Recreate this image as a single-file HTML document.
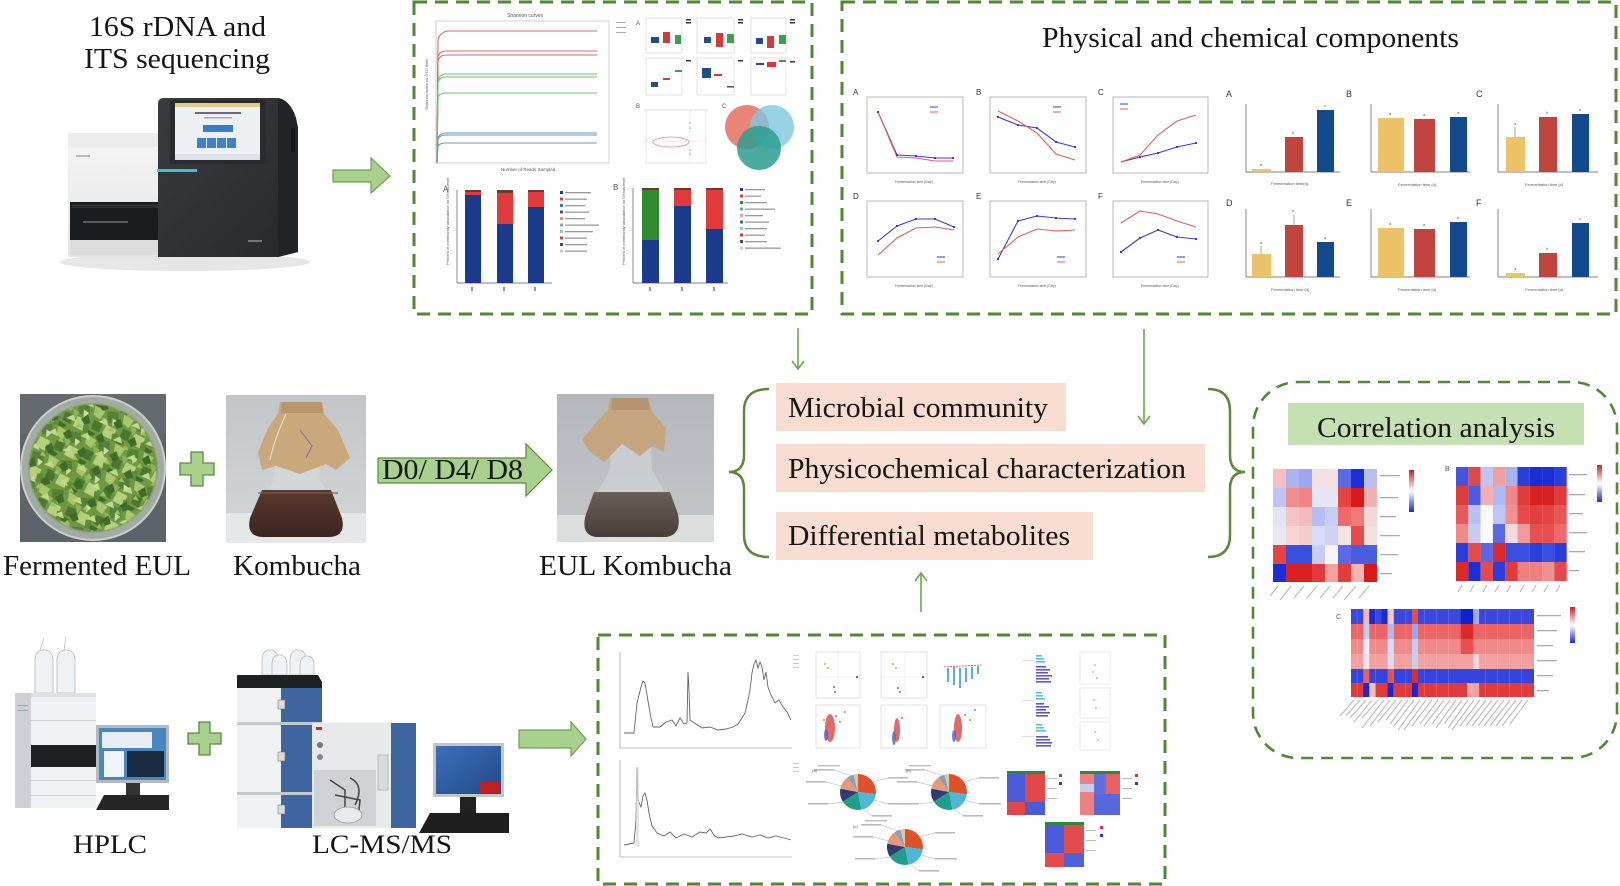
<!DOCTYPE html>
<html><head><meta charset="utf-8">
<style>
html,body{margin:0;padding:0;background:#fff;width:1620px;height:886px;overflow:hidden;}
svg{display:block;}
.big{font-family:"Liberation Serif",serif;fill:#161616;}
.sm{font-family:"Liberation Sans",sans-serif;fill:#555;}
</style></head><body>
<svg width="1620" height="886" viewBox="0 0 1620 886" xmlns="http://www.w3.org/2000/svg">
<defs>
<pattern id="leafp" width="30" height="30" patternUnits="userSpaceOnUse" patternTransform="rotate(17)">
<rect width="30" height="30" fill="#6e9942"/>
<polygon points="0,0 11,3 8,12 1,9" fill="#a9c76a"/>
<polygon points="13,2 24,0 27,10 16,13" fill="#54803a"/>
<polygon points="3,14 12,15 11,25 2,23" fill="#4a7630"/>
<polygon points="16,15 27,17 25,28 14,26" fill="#b8d07e"/>
<polygon points="9,9 17,11 14,18" fill="#8cb458"/>
<polygon points="20,7 26,9 22,15" fill="#cfe09a"/>
<polygon points="0,25 8,27 6,30 0,30" fill="#3f6b2b"/>
<polygon points="24,22 30,20 30,29 25,30" fill="#5e8a38"/>
</pattern>
<pattern id="leafp2" width="23" height="23" patternUnits="userSpaceOnUse" patternTransform="rotate(-38)">
<polygon points="2,2 10,4 7,11" fill="#c2d88c"/>
<polygon points="13,12 21,13 18,21 12,19" fill="#3e6a2a"/>
<polygon points="4,15 9,14 8,20" fill="#9cc060"/>
</pattern>
<linearGradient id="whiteBody" x1="0" y1="0" x2="0" y2="1"><stop offset="0" stop-color="#f6f6f6"/><stop offset="1" stop-color="#e4e4e4"/></linearGradient>
<linearGradient id="darkBody" x1="0" y1="0" x2="1" y2="1"><stop offset="0" stop-color="#3a3b3f"/><stop offset="1" stop-color="#28292c"/></linearGradient>
<linearGradient id="bgK" x1="0" y1="0" x2="0" y2="1"><stop offset="0" stop-color="#c2c6c9"/><stop offset="1" stop-color="#d4d7d9"/></linearGradient>
<linearGradient id="bgE" x1="0" y1="0" x2="0" y2="1"><stop offset="0" stop-color="#b4b8bc"/><stop offset="1" stop-color="#c4c7ca"/></linearGradient>
<linearGradient id="liqK" x1="0" y1="0" x2="0" y2="1"><stop offset="0" stop-color="#5a3a30"/><stop offset="1" stop-color="#3c241e"/></linearGradient>
<linearGradient id="liqE" x1="0" y1="0" x2="0" y2="1"><stop offset="0" stop-color="#6a6058"/><stop offset="1" stop-color="#463e38"/></linearGradient>
<linearGradient id="scr" x1="0" y1="0" x2="1" y2="1"><stop offset="0" stop-color="#3d70b8"/><stop offset="1" stop-color="#1f4a8a"/></linearGradient>
<linearGradient id="cbar" x1="0" y1="0" x2="0" y2="1"><stop offset="0" stop-color="#d41c1c"/><stop offset="0.5" stop-color="#ffffff"/><stop offset="1" stop-color="#1c2ad4"/></linearGradient>
<g id="pie">
<path d="M0 0 L0 -18 A18 18 0 0 1 17.86 2.26 Z" fill="#e0502a"/>
<path d="M0 0 L17.86 2.26 A18 18 0 0 1 3.37 17.68 Z" fill="#4fb8d8"/>
<path d="M0 0 L3.37 17.68 A18 18 0 0 1 -15.2 9.64 Z" fill="#1f9e89"/>
<path d="M0 0 L-15.2 9.64 A18 18 0 0 1 -17.68 -3.37 Z" fill="#2c3e70"/>
<path d="M0 0 L-17.68 -3.37 A18 18 0 0 1 -10.58 -14.56 Z" fill="#e89a78"/>
<path d="M0 0 L-10.58 -14.56 A18 18 0 0 1 -4.48 -17.43 Z" fill="#8aa0b8"/>
<path d="M0 0 L-4.48 -17.43 A18 18 0 0 1 0 -18 Z" fill="#d8c9a0"/>
<g stroke="#aaa" stroke-width="0.5"><line x1="14" y1="-10" x2="30" y2="-14"/><line x1="16" y1="8" x2="30" y2="12"/><line x1="-16" y1="-6" x2="-32" y2="-10"/><line x1="-14" y1="10" x2="-30" y2="12"/><line x1="-6" y1="-16" x2="-24" y2="-22"/><line x1="5" y1="17" x2="14" y2="24"/></g>
<g fill="#bbb"><rect x="30" y="-15" width="20" height="1.6"/><rect x="30" y="11" width="22" height="1.6"/><rect x="-52" y="-11" width="20" height="1.6"/><rect x="-50" y="11" width="20" height="1.6"/><rect x="-44" y="-23" width="20" height="1.6"/><rect x="-40" y="-27" width="22" height="1.4"/><rect x="14" y="23" width="20" height="1.6"/></g>
</g>
</defs>

<rect width="1620" height="886" fill="#fff"/>

<!-- ============ TOP LEFT ============ -->
<text class="big" x="89" y="36" font-size="28" textLength="177" lengthAdjust="spacingAndGlyphs">16S rDNA and</text>
<text class="big" x="84" y="68" font-size="28" textLength="186" lengthAdjust="spacingAndGlyphs">ITS sequencing</text>

<!-- sequencer -->
<ellipse cx="185" cy="262" rx="125" ry="9" fill="#e6e6e6"/>
<rect x="68" y="133" width="92" height="124" fill="url(#whiteBody)"/>
<rect x="68" y="133" width="92" height="14" fill="#ececec"/>
<rect x="76" y="155" width="14" height="2" fill="#bbb"/>
<rect x="70" y="202" width="88" height="38" fill="#1b1c1e"/>
<rect x="72" y="204" width="86" height="4" fill="#2c2d30"/>
<rect x="83" y="221" width="45" height="2" fill="#5a5a5c"/>
<rect x="70" y="240" width="88" height="15" fill="#dcdcdc"/>
<path d="M158 104 Q158 98 164 98 L278 98 Q290 100 296 118 L298 128 L298 252 L278 257 L158 257 Z" fill="url(#darkBody)"/>
<path d="M278 98 Q290 100 296 118 L298 128 L298 252 L278 257 Z" fill="#222326"/>
<rect x="291" y="128" width="4" height="24" fill="#141416"/>
<rect x="170" y="100" width="96" height="64" fill="#2a2b2e"/>
<rect x="175" y="103" width="85" height="57" fill="#eef1f4"/>
<rect x="175" y="103" width="85" height="4" fill="#e3c98a"/>
<rect x="195" y="112" width="46" height="2" fill="#6a6a7a"/>
<rect x="204" y="117" width="28" height="1.5" fill="#aaa"/>
<rect x="203" y="125" width="30" height="7" fill="#3a7fc6"/>
<rect x="197" y="138" width="9" height="10" fill="#3d82c8"/>
<rect x="207" y="138" width="9" height="10" fill="#3d82c8"/>
<rect x="217" y="138" width="9" height="10" fill="#3d82c8"/>
<rect x="227" y="138" width="9" height="10" fill="#3d82c8"/>
<rect x="175" y="154" width="85" height="6" fill="#dfe3e7"/>
<rect x="157" y="169" width="40" height="3" fill="#37c3cf"/>
<rect x="248" y="240" width="14" height="2" fill="#777"/>

<!-- arrow 1 -->
<path d="M333 170 L371 170 L371 158 L390 176 L371 193 L371 182 L333 182 Z" fill="#a9d18e" stroke="#6d9f50" stroke-width="1.2"/>

<!-- ============ BOX 1 ============ -->
<rect x="414" y="2" width="398" height="312" fill="none" stroke="#4f8a32" stroke-width="3" stroke-dasharray="13 8"/>
<!-- shannon -->
<text class="sm" x="507" y="17" font-size="5">Shannon curves</text>
<rect x="436" y="21" width="173" height="142" fill="none" stroke="#bbb" stroke-width="0.7"/>
<g fill="none" stroke-width="1.1">
<path d="M437 163 L438 40 Q440 32 448 31 L597 31" stroke="#e06464"/>
<path d="M437 163 L438 56 Q440 51 446 51 L597 51" stroke="#e06464"/>
<path d="M437 163 L438 60 Q440 55 446 55 L597 55" stroke="#e06464"/>
<path d="M437 163 L438 80 Q440 74 446 74 L597 74" stroke="#6cc06c"/>
<path d="M437 163 L438 82 Q440 77 446 77 L597 77" stroke="#6cc06c"/>
<path d="M437 163 L438 97 Q440 93 446 93 L597 93" stroke="#6cc06c"/>
<path d="M437 163 L438 138 Q440 133 446 133 L597 133" stroke="#6a95bd"/>
<path d="M437 163 L438 139 Q440 135 446 135 L597 135" stroke="#6a95bd"/>
<path d="M437 163 L438 146 Q440 143 446 143 L597 143" stroke="#6a95bd"/>
</g>
<g fill="#aaa"><rect x="616" y="22" width="10" height="1"/><rect x="616" y="27" width="10" height="1"/><rect x="616" y="32" width="10" height="1"/></g>
<text class="sm" x="501" y="171" font-size="4.5">Number of Reads Sampled</text>
<text class="sm" x="428" y="110" font-size="4" transform="rotate(-90 428 110)">Shannon index on OTU level</text>
<!-- boxplots -->
<g fill="none" stroke="#ccc" stroke-width="0.6">
<rect x="646" y="18" width="36" height="35"/><rect x="697" y="18" width="37" height="35"/><rect x="751" y="18" width="35" height="35"/>
<rect x="646" y="58" width="36" height="37"/><rect x="697" y="58" width="37" height="37"/><rect x="751" y="58" width="35" height="37"/>
</g>
<text class="sm" x="636" y="25" font-size="6" fill="#333">A</text>
<g>
<rect x="651" y="37" width="8" height="6" fill="#1f4e8c"/><rect x="663" y="32" width="7" height="11" fill="#d9383a"/><rect x="675" y="35" width="6" height="9" fill="#3aa04a"/>
<rect x="704" y="37" width="7" height="6" fill="#1f4e8c"/><rect x="716" y="33" width="7" height="14" fill="#d9383a"/><rect x="727" y="34" width="7" height="9" fill="#3aa04a"/>
<rect x="756" y="38" width="7" height="6" fill="#1f4e8c"/><rect x="767" y="36" width="7" height="12" fill="#d9383a"/><rect x="779" y="35" width="7" height="9" fill="#3aa04a"/>
<rect x="651" y="82" width="7" height="5" fill="#1f4e8c"/><rect x="663" y="78" width="7" height="2" fill="#d9383a"/><rect x="675" y="70" width="7" height="2" fill="#3aa04a"/>
<rect x="702" y="68" width="9" height="10" fill="#1f4e8c"/><rect x="714" y="74" width="8" height="2" fill="#d9383a"/><rect x="727" y="86" width="7" height="1.5" fill="#555"/>
<rect x="756" y="63" width="8" height="2" fill="#1f4e8c"/><rect x="767" y="62" width="9" height="5" fill="#d9383a"/><rect x="779" y="60" width="7" height="2" fill="#3aa04a"/>
</g>
<g fill="#333"><rect x="686" y="19" width="5" height="1.5"/><rect x="686" y="22" width="5" height="1.5"/><rect x="738" y="19" width="5" height="1.5"/><rect x="738" y="22" width="5" height="1.5"/><rect x="790" y="19" width="5" height="1.5"/><rect x="790" y="22" width="5" height="1.5"/><rect x="686" y="60" width="5" height="1.5"/><rect x="738" y="60" width="5" height="1.5"/><rect x="790" y="61" width="5" height="1.5"/></g>
<!-- PCA -->
<text class="sm" x="636" y="108" font-size="6" fill="#333">B</text>
<rect x="646" y="110" width="60" height="53" fill="none" stroke="#ccc" stroke-width="0.6"/>
<line x1="646" y1="141" x2="706" y2="141" stroke="#ccc" stroke-width="0.5" stroke-dasharray="2 1"/>
<line x1="690" y1="110" x2="690" y2="163" stroke="#ccc" stroke-width="0.5" stroke-dasharray="2 1"/>
<ellipse cx="671" cy="142" rx="18" ry="5" fill="none" stroke="#e88" stroke-width="0.8"/>
<g fill="#7aa"><circle cx="690" cy="123" r="0.8"/><circle cx="690" cy="128" r="0.8"/><circle cx="690" cy="150" r="0.8"/><circle cx="690" cy="154" r="0.8"/></g>
<!-- venn -->
<text class="sm" x="722" y="108" font-size="6" fill="#333">C</text>
<circle cx="747" cy="127" r="22" fill="#e8776a" opacity="0.9"/>
<circle cx="772" cy="127" r="22" fill="#7ec8de" opacity="0.8"/>
<circle cx="759" cy="148" r="22" fill="#2a9d8f" opacity="0.85"/>
<!-- bar A -->
<text class="sm" x="443" y="192" font-size="8" fill="#333">A</text>
<line x1="457" y1="190" x2="457" y2="283" stroke="#555" stroke-width="0.7"/>
<line x1="457" y1="283" x2="552" y2="283" stroke="#555" stroke-width="0.7"/>
<text class="sm" x="449" y="265" font-size="4" transform="rotate(-90 449 265)">Percent of community abundance on Genus level</text>
<rect x="465" y="190" width="16" height="2" fill="#6b3a2a"/><rect x="465" y="192" width="16" height="3" fill="#e03a3a"/><rect x="465" y="195" width="16" height="88" fill="#1a3a8a"/>
<rect x="497" y="190" width="16" height="3" fill="#6b3a2a"/><rect x="497" y="193" width="16" height="31" fill="#e03a3a"/><rect x="497" y="224" width="16" height="59" fill="#1a3a8a"/>
<rect x="528" y="190" width="16" height="2" fill="#6b3a2a"/><rect x="528" y="192" width="16" height="15" fill="#e03a3a"/><rect x="528" y="207" width="16" height="76" fill="#1a3a8a"/>
<g fill="#999"><rect x="471" y="287" width="2" height="4"/><rect x="503" y="287" width="2" height="4"/><rect x="534" y="287" width="2" height="4"/></g>
<g>
<rect x="560" y="191" width="3" height="3" fill="#1a3a8a"/><rect x="560" y="197.5" width="3" height="3" fill="#e03a3a"/><rect x="560" y="204" width="3" height="3" fill="#2a8a8a"/><rect x="560" y="210.5" width="3" height="3" fill="#3a5a9a"/><rect x="560" y="217" width="3" height="3" fill="#e88"/><rect x="560" y="223.5" width="3" height="3" fill="#8aa"/><rect x="560" y="230" width="3" height="3" fill="#8cc"/><rect x="560" y="236.5" width="3" height="3" fill="#c44"/><rect x="560" y="243" width="3" height="3" fill="#643"/><rect x="560" y="249.5" width="3" height="3" fill="#ccc"/>
</g>
<g fill="#999"><rect x="565" y="192" width="26" height="1.3"/><rect x="565" y="198.5" width="22" height="1.3"/><rect x="565" y="205" width="20" height="1.3"/><rect x="565" y="211.5" width="24" height="1.3"/><rect x="565" y="218" width="20" height="1.3"/><rect x="565" y="224.5" width="34" height="1.3"/><rect x="565" y="231" width="28" height="1.3"/><rect x="565" y="237.5" width="22" height="1.3"/><rect x="565" y="244" width="22" height="1.3"/><rect x="565" y="250.5" width="22" height="1.3"/></g>
<!-- bar B -->
<text class="sm" x="613" y="190" font-size="8" fill="#333">B</text>
<line x1="633" y1="188" x2="633" y2="283" stroke="#555" stroke-width="0.7"/>
<line x1="633" y1="283" x2="728" y2="283" stroke="#555" stroke-width="0.7"/>
<text class="sm" x="625" y="265" font-size="4" transform="rotate(-90 625 265)">Percent of community abundance on Genus level</text>
<rect x="642" y="188" width="17" height="2" fill="#6b3a2a"/><rect x="642" y="190" width="17" height="50" fill="#2e8b2e"/><rect x="642" y="240" width="17" height="43" fill="#1a3a8a"/>
<rect x="674" y="188" width="17" height="2" fill="#6b3a2a"/><rect x="674" y="190" width="17" height="16" fill="#e03a3a"/><rect x="674" y="206" width="17" height="77" fill="#1a3a8a"/>
<rect x="706" y="188" width="17" height="2" fill="#6b3a2a"/><rect x="706" y="190" width="17" height="39" fill="#e03a3a"/><rect x="706" y="229" width="17" height="54" fill="#1a3a8a"/>
<g fill="#999"><rect x="649" y="287" width="2" height="4"/><rect x="681" y="287" width="2" height="4"/><rect x="713" y="287" width="2" height="4"/></g>
<g>
<rect x="740" y="188" width="3" height="3" fill="#1a3a8a"/><rect x="740" y="194.5" width="3" height="3" fill="#e03a3a"/><rect x="740" y="201" width="3" height="3" fill="#2e8b2e"/><rect x="740" y="207.5" width="3" height="3" fill="#6aa"/><rect x="740" y="214" width="3" height="3" fill="#e99"/><rect x="740" y="220.5" width="3" height="3" fill="#468"/><rect x="740" y="227" width="3" height="3" fill="#8cc"/><rect x="740" y="233.5" width="3" height="3" fill="#d33"/><rect x="740" y="240" width="3" height="3" fill="#643"/><rect x="740" y="246.5" width="3" height="3" fill="#ccc"/>
</g>
<g fill="#999"><rect x="745" y="189" width="20" height="1.3"/><rect x="745" y="195.5" width="16" height="1.3"/><rect x="745" y="202" width="22" height="1.3"/><rect x="745" y="208.5" width="30" height="1.3"/><rect x="745" y="215" width="18" height="1.3"/><rect x="745" y="221.5" width="24" height="1.3"/><rect x="745" y="228" width="22" height="1.3"/><rect x="745" y="234.5" width="20" height="1.3"/><rect x="745" y="241" width="22" height="1.3"/><rect x="745" y="247.5" width="36" height="1.3"/></g>

<!-- ============ BOX 2 ============ -->
<rect x="842" y="2" width="774" height="312" fill="none" stroke="#4f8a32" stroke-width="3" stroke-dasharray="13 8"/>
<text class="big" x="1042" y="47" font-size="28" textLength="417" lengthAdjust="spacingAndGlyphs">Physical and chemical components</text>
<!-- line charts -->
<g class="sm" font-size="8" fill="#333">
<text x="853" y="95" fill="#333">A</text><text x="976" y="95" fill="#333">B</text><text x="1098" y="95" fill="#333">C</text>
<text x="853" y="199" fill="#333">D</text><text x="976" y="199" fill="#333">E</text><text x="1098" y="199" fill="#333">F</text>
</g>
<g fill="none" stroke="#999" stroke-width="0.7">
<rect x="867" y="97" width="96" height="76"/><rect x="990" y="97" width="96" height="76"/><rect x="1113" y="97" width="95" height="76"/>
<rect x="867" y="201" width="96" height="76"/><rect x="990" y="201" width="96" height="76"/><rect x="1113" y="201" width="95" height="76"/>
</g>
<g class="sm" font-size="3.5" fill="#777">
<text x="895" y="183">Fermentation time (Day)</text><text x="1018" y="183">Fermentation time (Day)</text><text x="1141" y="183">Fermentation time (Day)</text>
<text x="895" y="287">Fermentation time (Day)</text><text x="1018" y="287">Fermentation time (Day)</text><text x="1141" y="287">Fermentation time (Day)</text>
</g>
<g fill="none" stroke-width="1.1">
<polyline points="878,112 897,155 916,156 935,158 953,158" stroke="#3a3ad0"/>
<polyline points="878,112 897,157 916,158 935,161 953,161" stroke="#e06060"/>
<polyline points="998,117 1018,125 1037,128 1056,142 1075,147" stroke="#3a3ad0"/>
<polyline points="998,111 1018,121 1037,133 1056,154 1075,160" stroke="#e06060"/>
<polyline points="1121,162 1140,157 1158,153 1177,147 1196,143" stroke="#3a3ad0"/>
<polyline points="1121,162 1140,155 1158,135 1177,121 1196,115" stroke="#e06060"/>
<polyline points="878,241 897,226 916,219 935,219 954,227" stroke="#3a3ad0"/>
<polyline points="878,255 897,238 916,228 935,227 954,230" stroke="#e06060"/>
<polyline points="998,259 1018,221 1037,216 1056,218 1075,219" stroke="#3a3ad0"/>
<polyline points="998,254 1018,237 1037,229 1056,231 1075,230" stroke="#e06060"/>
<polyline points="1121,252 1140,238 1158,230 1177,237 1196,239" stroke="#3a3ad0"/>
<polyline points="1121,223 1140,211 1158,214 1177,221 1196,227" stroke="#e06060"/>
</g>
<g fill="#3a3ad0">
<rect x="877" y="111" width="2" height="2"/><rect x="896" y="154" width="2" height="2"/><rect x="915" y="155" width="2" height="2"/><rect x="934" y="157" width="2" height="2"/><rect x="952" y="157" width="2" height="2"/>
<rect x="997" y="116" width="2" height="2"/><rect x="1017" y="124" width="2" height="2"/><rect x="1036" y="127" width="2" height="2"/><rect x="1055" y="141" width="2" height="2"/><rect x="1074" y="146" width="2" height="2"/>
<rect x="1139" y="156" width="2" height="2"/><rect x="1157" y="152" width="2" height="2"/><rect x="1176" y="146" width="2" height="2"/><rect x="1195" y="142" width="2" height="2"/>
<rect x="877" y="240" width="2" height="2"/><rect x="896" y="225" width="2" height="2"/><rect x="915" y="218" width="2" height="2"/><rect x="934" y="218" width="2" height="2"/><rect x="953" y="226" width="2" height="2"/>
<rect x="997" y="258" width="2" height="2"/><rect x="1017" y="220" width="2" height="2"/><rect x="1036" y="215" width="2" height="2"/><rect x="1055" y="217" width="2" height="2"/><rect x="1074" y="218" width="2" height="2"/>
<rect x="1120" y="251" width="2" height="2"/><rect x="1139" y="237" width="2" height="2"/><rect x="1157" y="229" width="2" height="2"/><rect x="1176" y="236" width="2" height="2"/><rect x="1195" y="238" width="2" height="2"/>
</g>
<g stroke-width="1" fill="none">
<line x1="930" y1="107" x2="938" y2="107" stroke="#3a3ad0"/><line x1="930" y1="112" x2="938" y2="112" stroke="#e06060"/>
<line x1="1053" y1="107" x2="1061" y2="107" stroke="#3a3ad0"/><line x1="1053" y1="112" x2="1061" y2="112" stroke="#e06060"/>
<line x1="1120" y1="104" x2="1128" y2="104" stroke="#3a3ad0"/><line x1="1120" y1="109" x2="1128" y2="109" stroke="#e06060"/>
<line x1="937" y1="257" x2="945" y2="257" stroke="#3a3ad0"/><line x1="937" y1="262" x2="945" y2="262" stroke="#e06060"/>
<line x1="1057" y1="257" x2="1065" y2="257" stroke="#3a3ad0"/><line x1="1057" y1="262" x2="1065" y2="262" stroke="#e06060"/>
<line x1="1177" y1="257" x2="1185" y2="257" stroke="#3a3ad0"/><line x1="1177" y1="262" x2="1185" y2="262" stroke="#e06060"/>
</g>
<!-- bar charts -->
<g class="sm" font-size="9" fill="#333">
<text x="1226" y="97" fill="#333">A</text><text x="1346" y="97" fill="#333">B</text><text x="1476" y="97" fill="#333">C</text>
<text x="1226" y="206" fill="#333">D</text><text x="1346" y="206" fill="#333">E</text><text x="1476" y="206" fill="#333">F</text>
</g>
<g stroke="#555" stroke-width="0.7">
<line x1="1246" y1="104" x2="1246" y2="172"/><line x1="1246" y1="172" x2="1340" y2="172"/>
<line x1="1371" y1="104" x2="1371" y2="172"/><line x1="1371" y1="172" x2="1470" y2="172"/>
<line x1="1498" y1="104" x2="1498" y2="172"/><line x1="1498" y1="172" x2="1598" y2="172"/>
<line x1="1246" y1="209" x2="1246" y2="277"/><line x1="1246" y1="277" x2="1340" y2="277"/>
<line x1="1371" y1="209" x2="1371" y2="277"/><line x1="1371" y1="277" x2="1470" y2="277"/>
<line x1="1498" y1="209" x2="1498" y2="277"/><line x1="1498" y1="277" x2="1598" y2="277"/>
</g>
<g>
<rect x="1252" y="169" width="19" height="3" fill="#ebc46a"/><rect x="1285" y="137" width="18" height="35" fill="#c0453f"/><rect x="1317" y="110" width="17" height="62" fill="#134a8e"/>
<rect x="1378" y="118" width="26" height="54" fill="#ebc46a"/><rect x="1414" y="119" width="21" height="53" fill="#c0453f"/><rect x="1450" y="117" width="17" height="55" fill="#134a8e"/>
<rect x="1506" y="137" width="19" height="35" fill="#ebc46a"/><rect x="1539" y="117" width="18" height="55" fill="#c0453f"/><rect x="1572" y="114" width="17" height="58" fill="#134a8e"/>
<rect x="1252" y="254" width="19" height="23" fill="#ebc46a"/><rect x="1285" y="225" width="18" height="52" fill="#c0453f"/><rect x="1317" y="242" width="17" height="35" fill="#134a8e"/>
<rect x="1378" y="228" width="26" height="49" fill="#ebc46a"/><rect x="1414" y="229" width="21" height="48" fill="#c0453f"/><rect x="1450" y="222" width="17" height="55" fill="#134a8e"/>
<rect x="1506" y="273" width="19" height="4" fill="#ebc46a"/><rect x="1539" y="253" width="18" height="24" fill="#c0453f"/><rect x="1572" y="223" width="17" height="54" fill="#134a8e"/>
</g>
<g stroke="#666" stroke-width="0.6"><line x1="1515" y1="127" x2="1515" y2="137"/><line x1="1261" y1="246" x2="1261" y2="254"/><line x1="1294" y1="215" x2="1294" y2="225"/></g>
<g class="sm" font-size="4" fill="#666">
<text x="1271" y="185">Fermentation time(d)</text><text x="1398" y="186">Fermentation time (d)</text><text x="1525" y="186">Fermentation time (d)</text>
<text x="1271" y="291">Fermentation time (d)</text><text x="1398" y="291">Fermentation time (d)</text><text x="1525" y="291">Fermentation time (d)</text>
</g>
<g class="sm" font-size="4" fill="#666">
<text x="1260" y="166">a</text><text x="1292" y="134">b</text><text x="1324" y="107">c</text>
<text x="1389" y="115">a</text><text x="1423" y="116">a</text><text x="1457" y="114">a</text>
<text x="1514" y="125">a</text><text x="1546" y="114">b</text><text x="1579" y="111">b</text>
<text x="1260" y="244">a</text><text x="1292" y="212">b</text><text x="1324" y="239">a</text>
<text x="1389" y="225">a</text><text x="1423" y="226">a</text><text x="1457" y="219">b</text>
<text x="1514" y="270">a</text><text x="1546" y="250">b</text><text x="1579" y="220">c</text>
</g>

<!-- connector arrows -->
<g stroke="#6aa84f" stroke-width="1.6" fill="none">
<line x1="798" y1="328" x2="798" y2="369"/><polyline points="792,361 798,369 804,361"/>
<line x1="1144" y1="329" x2="1144" y2="424"/><polyline points="1138,416 1144,424 1150,416"/>
<line x1="921" y1="612" x2="921" y2="573"/><polyline points="915,581 921,573 927,581"/>
</g>

<!-- ============ MIDDLE ROW ============ -->
<!-- leaves photo -->
<rect x="20" y="394" width="146" height="148" fill="#5d636a"/>
<rect x="20" y="394" width="146" height="40" fill="#6a7076" opacity="0.6"/>
<circle cx="93" cy="468" r="72" fill="#a2aba2" stroke="#c9d0c9" stroke-width="2"/>
<circle cx="93" cy="468" r="64" fill="url(#leafp)"/>
<circle cx="93" cy="468" r="64" fill="url(#leafp2)"/>
<circle cx="93" cy="468" r="64" fill="none" stroke="#8a9a6a" stroke-width="2" opacity="0.6"/>
<!-- plus 1 -->
<path d="M191 452 L203 452 L203 463 L214 463 L214 475 L203 475 L203 486 L191 486 L191 475 L180 475 L180 463 L191 463 Z" fill="#a9d18e" stroke="#5c8a3c" stroke-width="1.3"/>
<!-- kombucha photo -->
<rect x="226" y="395" width="140" height="148" fill="url(#bgK)"/>
<rect x="226" y="513" width="140" height="30" fill="#e6e7e8"/>
<path d="M278 420 L318 420 L320 480 L342 520 Q346 536 330 537 L262 537 Q246 536 250 520 L274 480 Z" fill="#d3d8db" opacity="0.8"/>
<path d="M262 490 L331 490 L342 518 Q346 536 330 537 L262 537 Q246 536 250 518 Z" fill="url(#liqK)"/>
<rect x="258" y="492" width="80" height="2" fill="#7a5a4a" opacity="0.6"/>
<path d="M280 402 L322 402 L324 414 L338 430 L350 458 L336 470 L326 464 L300 474 L276 466 L262 470 L258 452 L268 428 L278 414 Z" fill="#c9a87c"/>
<path d="M282 402 L322 402 L323 413 L281 413 Z" fill="#b8966a"/>
<path d="M300 430 L312 446 L306 458" stroke="#8a6aa0" stroke-width="1" fill="none"/>
<path d="M286 414 Q274 440 270 460" stroke="#e8dccb" stroke-width="1.2" fill="none"/>
<!-- D0 arrow -->
<path d="M378 458 L526 458 L526 444 L552 470 L526 496 L526 483 L378 483 Z" fill="#a9d18e" stroke="#5c8a3c" stroke-width="1.2"/>
<text class="big" x="382" y="479" font-size="29" textLength="141" lengthAdjust="spacingAndGlyphs">D0/ D4/ D8</text>
<!-- EUL kombucha photo -->
<rect x="557" y="394" width="157" height="148" fill="url(#bgE)"/>
<rect x="557" y="515" width="157" height="27" fill="#dcdddd"/>
<path d="M612 410 L650 410 L652 470 L676 512 Q682 535 666 537 L596 537 Q580 535 586 512 L610 470 Z" fill="#cdd2d5" opacity="0.75"/>
<path d="M594 492 L670 492 L678 514 Q682 535 666 537 L596 537 Q580 535 586 514 Z" fill="url(#liqE)"/>
<path d="M610 398 L648 398 L652 412 L666 428 L664 452 L652 446 L640 456 L622 444 L604 462 L590 452 L582 440 L598 420 L608 410 Z" fill="#c5a57e"/>
<path d="M612 398 L648 398 L650 410 L611 410 Z" fill="#b69470"/>
<!-- labels -->
<text class="big" x="3" y="575" font-size="28" textLength="188" lengthAdjust="spacingAndGlyphs">Fermented EUL</text>
<text class="big" x="233" y="575" font-size="28" textLength="128" lengthAdjust="spacingAndGlyphs">Kombucha</text>
<text class="big" x="539" y="575" font-size="28" textLength="193" lengthAdjust="spacingAndGlyphs">EUL Kombucha</text>

<!-- braces -->
<g stroke="#5c8a3c" stroke-width="2.5" fill="none">
<path d="M769 389 Q744 389 744 411 L744 455 Q744 472 729 472 Q744 472 744 489 L744 535 Q744 557 769 557"/>
<path d="M1208 389 Q1230 389 1230 411 L1230 455 Q1230 472 1245 472 Q1230 472 1230 489 L1230 535 Q1230 557 1208 557"/>
</g>
<!-- peach boxes -->
<rect x="776" y="383" width="290" height="48" fill="#f8ddd0"/>
<rect x="776" y="444" width="429" height="48" fill="#f8ddd0"/>
<rect x="776" y="512" width="317" height="48" fill="#f8ddd0"/>
<text class="big" x="788" y="417" font-size="29" textLength="260" lengthAdjust="spacingAndGlyphs">Microbial community</text>
<text class="big" x="788" y="478" font-size="29" textLength="398" lengthAdjust="spacingAndGlyphs">Physicochemical characterization</text>
<text class="big" x="788" y="545" font-size="29" textLength="282" lengthAdjust="spacingAndGlyphs">Differential metabolites</text>

<!-- ============ CORRELATION ============ -->
<rect x="1253" y="382" width="364" height="376" rx="45" ry="45" fill="none" stroke="#4f8a32" stroke-width="2.6" stroke-dasharray="12 8"/>
<rect x="1288" y="403" width="296" height="42" fill="#c5e0b3"/>
<text class="big" x="1317" y="437" font-size="29" textLength="238" lengthAdjust="spacingAndGlyphs">Correlation analysis</text>
<!-- heatmap A -->
<g>
<rect x="1273" y="469" width="13" height="19" fill="#f4c0c0"/><rect x="1286" y="469" width="13" height="19" fill="#a9b4f0"/><rect x="1299" y="469" width="13" height="19" fill="#9aa6ee"/><rect x="1312" y="469" width="13" height="19" fill="#f3e0e0"/><rect x="1325" y="469" width="13" height="19" fill="#f4e2e2"/><rect x="1338" y="469" width="13" height="19" fill="#5a6ae4"/><rect x="1351" y="469" width="13" height="19" fill="#1a2ed8"/><rect x="1364" y="469" width="13" height="19" fill="#b8c0f2"/>
<rect x="1273" y="488" width="13" height="19" fill="#c0c6f2"/><rect x="1286" y="488" width="13" height="19" fill="#f08e8e"/><rect x="1299" y="488" width="13" height="19" fill="#ee8484"/><rect x="1312" y="488" width="13" height="19" fill="#e4e6f4"/><rect x="1325" y="488" width="13" height="19" fill="#e4e6f4"/><rect x="1338" y="488" width="13" height="19" fill="#e44444"/><rect x="1351" y="488" width="13" height="19" fill="#d81a1a"/><rect x="1364" y="488" width="13" height="19" fill="#f2b0b0"/>
<rect x="1273" y="507" width="13" height="19" fill="#e2e4f4"/><rect x="1286" y="507" width="13" height="19" fill="#f4c4c4"/><rect x="1299" y="507" width="13" height="19" fill="#f2bcbc"/><rect x="1312" y="507" width="13" height="19" fill="#b5bdf0"/><rect x="1325" y="507" width="13" height="19" fill="#c8cef2"/><rect x="1338" y="507" width="13" height="19" fill="#ec6a6a"/><rect x="1351" y="507" width="13" height="19" fill="#ee7a7a"/><rect x="1364" y="507" width="13" height="19" fill="#f4d8d8"/>
<rect x="1273" y="526" width="13" height="19" fill="#e6e8f4"/><rect x="1286" y="526" width="13" height="19" fill="#f6d4d4"/><rect x="1299" y="526" width="13" height="19" fill="#f4cccc"/><rect x="1312" y="526" width="13" height="19" fill="#d8dcf4"/><rect x="1325" y="526" width="13" height="19" fill="#d0d4f2"/><rect x="1338" y="526" width="13" height="19" fill="#f6e4e4"/><rect x="1351" y="526" width="13" height="19" fill="#e84a4a"/><rect x="1364" y="526" width="13" height="19" fill="#f4dede"/>
<rect x="1273" y="545" width="13" height="19" fill="#e44444"/><rect x="1286" y="545" width="13" height="19" fill="#3a4ee0"/><rect x="1299" y="545" width="13" height="19" fill="#3a4ee0"/><rect x="1312" y="545" width="13" height="19" fill="#c8cef2"/><rect x="1325" y="545" width="13" height="19" fill="#f6f6fa"/><rect x="1338" y="545" width="13" height="19" fill="#5a6ae4"/><rect x="1351" y="545" width="13" height="19" fill="#4a5ce0"/><rect x="1364" y="545" width="13" height="19" fill="#4a5ce0"/>
<rect x="1273" y="564" width="13" height="18" fill="#1a2ed8"/><rect x="1286" y="564" width="13" height="18" fill="#dc2020"/><rect x="1299" y="564" width="13" height="18" fill="#dc2020"/><rect x="1312" y="564" width="13" height="18" fill="#e23a3a"/><rect x="1325" y="564" width="13" height="18" fill="#f2a0a0"/><rect x="1338" y="564" width="13" height="18" fill="#e23c3c"/><rect x="1351" y="564" width="13" height="18" fill="#f4b4b4"/><rect x="1364" y="564" width="13" height="18" fill="#d81a1a"/>
</g>
<rect x="1409" y="470" width="5" height="42" fill="url(#cbar)"/>
<g fill="#aaa"><rect x="1380" y="475" width="20" height="1.3"/><rect x="1380" y="497" width="18" height="1.3"/><rect x="1380" y="516" width="16" height="1.3"/><rect x="1380" y="535" width="20" height="1.3"/><rect x="1380" y="554" width="18" height="1.3"/><rect x="1380" y="573" width="12" height="1.3"/></g>
<g stroke="#bbb" stroke-width="1.2"><line x1="1278" y1="586" x2="1270" y2="596"/><line x1="1291" y1="586" x2="1280" y2="600"/><line x1="1304" y1="586" x2="1294" y2="598"/><line x1="1317" y1="586" x2="1307" y2="598"/><line x1="1330" y1="586" x2="1320" y2="598"/><line x1="1343" y1="586" x2="1333" y2="598"/><line x1="1356" y1="586" x2="1344" y2="600"/><line x1="1369" y1="586" x2="1359" y2="598"/></g>
<!-- heatmap B -->
<text class="sm" x="1445" y="471" font-size="7" fill="#333">B</text>
<g>
<rect x="1456" y="467" width="12.3" height="19" fill="#4454e0"/><rect x="1468.3" y="467" width="12.3" height="19" fill="#e04848"/><rect x="1480.6" y="467" width="12.3" height="19" fill="#c0c6f2"/><rect x="1492.9" y="467" width="12.3" height="19" fill="#f0a0a0"/><rect x="1505.2" y="467" width="12.3" height="19" fill="#a8b2ee"/><rect x="1517.5" y="467" width="12.3" height="19" fill="#2a3edc"/><rect x="1529.8" y="467" width="12.3" height="19" fill="#1a2ed8"/><rect x="1542.1" y="467" width="12.3" height="19" fill="#1a2ed8"/><rect x="1554.4" y="467" width="12.3" height="19" fill="#2a3edc"/>
<rect x="1456" y="486" width="12.3" height="19" fill="#e03a3a"/><rect x="1468.3" y="486" width="12.3" height="19" fill="#4a5ce0"/><rect x="1480.6" y="486" width="12.3" height="19" fill="#f4b0b0"/><rect x="1492.9" y="486" width="12.3" height="19" fill="#b0b8f0"/><rect x="1505.2" y="486" width="12.3" height="19" fill="#f08a8a"/><rect x="1517.5" y="486" width="12.3" height="19" fill="#e03a3a"/><rect x="1529.8" y="486" width="12.3" height="19" fill="#d82020"/><rect x="1542.1" y="486" width="12.3" height="19" fill="#d82020"/><rect x="1554.4" y="486" width="12.3" height="19" fill="#e03a3a"/>
<rect x="1456" y="505" width="12.3" height="19" fill="#e85a5a"/><rect x="1468.3" y="505" width="12.3" height="19" fill="#b8c0f2"/><rect x="1480.6" y="505" width="12.3" height="19" fill="#fafafa"/><rect x="1492.9" y="505" width="12.3" height="19" fill="#c0c6f2"/><rect x="1505.2" y="505" width="12.3" height="19" fill="#f09090"/><rect x="1517.5" y="505" width="12.3" height="19" fill="#e84a4a"/><rect x="1529.8" y="505" width="12.3" height="19" fill="#e04040"/><rect x="1542.1" y="505" width="12.3" height="19" fill="#e44444"/><rect x="1554.4" y="505" width="12.3" height="19" fill="#e85656"/>
<rect x="1456" y="524" width="12.3" height="19" fill="#f08a8a"/><rect x="1468.3" y="524" width="12.3" height="19" fill="#c8ccf0"/><rect x="1480.6" y="524" width="12.3" height="19" fill="#fafafa"/><rect x="1492.9" y="524" width="12.3" height="19" fill="#5a6ae4"/><rect x="1505.2" y="524" width="12.3" height="19" fill="#f6d8d8"/><rect x="1517.5" y="524" width="12.3" height="19" fill="#f09a9a"/><rect x="1529.8" y="524" width="12.3" height="19" fill="#e85050"/><rect x="1542.1" y="524" width="12.3" height="19" fill="#e85050"/><rect x="1554.4" y="524" width="12.3" height="19" fill="#ec6a6a"/>
<rect x="1456" y="543" width="12.3" height="19" fill="#2a3edc"/><rect x="1468.3" y="543" width="12.3" height="19" fill="#e84a4a"/><rect x="1480.6" y="543" width="12.3" height="19" fill="#5a6ae4"/><rect x="1492.9" y="543" width="12.3" height="19" fill="#dc2a2a"/><rect x="1505.2" y="543" width="12.3" height="19" fill="#3a4ee0"/><rect x="1517.5" y="543" width="12.3" height="19" fill="#3a4ee0"/><rect x="1529.8" y="543" width="12.3" height="19" fill="#2a3edc"/><rect x="1542.1" y="543" width="12.3" height="19" fill="#3a4ee0"/><rect x="1554.4" y="543" width="12.3" height="19" fill="#2a3edc"/>
<rect x="1456" y="562" width="12.3" height="19" fill="#dc2a2a"/><rect x="1468.3" y="562" width="12.3" height="19" fill="#1a2ed8"/><rect x="1480.6" y="562" width="12.3" height="19" fill="#e84a4a"/><rect x="1492.9" y="562" width="12.3" height="19" fill="#2a3edc"/><rect x="1505.2" y="562" width="12.3" height="19" fill="#e03a3a"/><rect x="1517.5" y="562" width="12.3" height="19" fill="#f08080"/><rect x="1529.8" y="562" width="12.3" height="19" fill="#f08080"/><rect x="1542.1" y="562" width="12.3" height="19" fill="#f09090"/><rect x="1554.4" y="562" width="12.3" height="19" fill="#e44848"/>
</g>
<rect x="1597" y="465" width="5" height="37" fill="url(#cbar)"/>
<g fill="#aaa"><rect x="1569" y="474" width="18" height="1.3"/><rect x="1569" y="494" width="16" height="1.3"/><rect x="1569" y="513" width="14" height="1.3"/><rect x="1569" y="532" width="18" height="1.3"/><rect x="1569" y="551" width="16" height="1.3"/><rect x="1569" y="570" width="10" height="1.3"/></g>
<g stroke="#bbb" stroke-width="1.2"><line x1="1462" y1="585" x2="1458" y2="592"/><line x1="1474" y1="585" x2="1470" y2="592"/><line x1="1487" y1="585" x2="1483" y2="592"/><line x1="1499" y1="585" x2="1495" y2="592"/><line x1="1511" y1="585" x2="1507" y2="592"/><line x1="1524" y1="585" x2="1520" y2="592"/><line x1="1536" y1="585" x2="1532" y2="592"/><line x1="1548" y1="585" x2="1544" y2="592"/><line x1="1560" y1="585" x2="1556" y2="592"/></g>
<!-- heatmap C -->
<text class="sm" x="1336" y="619" font-size="7" fill="#333">C</text>
<g>
<rect x="1351" y="609" width="183" height="15" fill="#3a48e0"/>
<rect x="1351" y="624" width="183" height="15" fill="#ec6464"/>
<rect x="1351" y="639" width="183" height="15" fill="#f08a8a"/>
<rect x="1351" y="654" width="183" height="15" fill="#f2a0a0"/>
<rect x="1351" y="669" width="183" height="14" fill="#3444de"/>
<rect x="1351" y="683" width="183" height="14" fill="#e23a3a"/>
<rect x="1363.2" y="609" width="6.1" height="15" fill="#f0b8b8"/><rect x="1363.2" y="624" width="6.1" height="15" fill="#c8ccf0"/><rect x="1363.2" y="639" width="6.1" height="15" fill="#eeeef6"/><rect x="1363.2" y="654" width="6.1" height="15" fill="#e8e6f2"/><rect x="1363.2" y="669" width="6.1" height="14" fill="#e86060"/><rect x="1363.2" y="683" width="6.1" height="14" fill="#1a2ad0"/>
<rect x="1369.3" y="609" width="6.1" height="15" fill="#1a2ad8"/><rect x="1369.3" y="683" width="6.1" height="14" fill="#f4c0c0"/>
<rect x="1381.5" y="609" width="6.1" height="15" fill="#1a2ad8"/>
<rect x="1387.6" y="609" width="6.1" height="15" fill="#f4c8c8"/><rect x="1387.6" y="624" width="6.1" height="15" fill="#b0b8f0"/><rect x="1387.6" y="639" width="6.1" height="15" fill="#d8dcf4"/><rect x="1387.6" y="654" width="6.1" height="15" fill="#d8dcf4"/><rect x="1387.6" y="669" width="6.1" height="14" fill="#e85050"/><rect x="1387.6" y="683" width="6.1" height="14" fill="#1a2ad0"/>
<rect x="1412" y="609" width="6.1" height="15" fill="#e05050"/><rect x="1412" y="624" width="6.1" height="15" fill="#9aa6ee"/><rect x="1412" y="639" width="6.1" height="15" fill="#c8ccf0"/><rect x="1412" y="654" width="6.1" height="15" fill="#c8ccf0"/><rect x="1412" y="669" width="6.1" height="14" fill="#d83030"/><rect x="1412" y="683" width="6.1" height="14" fill="#1a2ad0"/>
<rect x="1460.8" y="609" width="12.2" height="15" fill="#1020d0"/><rect x="1460.8" y="624" width="12.2" height="15" fill="#dc2a2a"/><rect x="1460.8" y="639" width="12.2" height="15" fill="#e85050"/>
<rect x="1473" y="609" width="6.1" height="15" fill="#a0aaee"/><rect x="1473" y="654" width="6.1" height="15" fill="#f4d8d8"/><rect x="1473" y="683" width="6.1" height="14" fill="#f2a0a0"/><rect x="1467" y="683" width="6" height="14" fill="#f2a8a8"/>
</g>
<g stroke="#ffffff" stroke-width="0.25" opacity="0.6">
<line x1="1357.1" y1="609" x2="1357.1" y2="697"/><line x1="1375.4" y1="609" x2="1375.4" y2="697"/><line x1="1393.7" y1="609" x2="1393.7" y2="697"/><line x1="1405.9" y1="609" x2="1405.9" y2="697"/><line x1="1424.2" y1="609" x2="1424.2" y2="697"/><line x1="1436.4" y1="609" x2="1436.4" y2="697"/><line x1="1448.6" y1="609" x2="1448.6" y2="697"/><line x1="1485.2" y1="609" x2="1485.2" y2="697"/><line x1="1497.4" y1="609" x2="1497.4" y2="697"/><line x1="1509.6" y1="609" x2="1509.6" y2="697"/><line x1="1521.8" y1="609" x2="1521.8" y2="697"/>
</g>
<rect x="1570" y="607" width="5" height="36" fill="url(#cbar)"/>
<g fill="#aaa"><rect x="1537" y="615" width="24" height="1.3"/><rect x="1537" y="630" width="20" height="1.3"/><rect x="1537" y="645" width="16" height="1.3"/><rect x="1537" y="660" width="20" height="1.3"/><rect x="1537" y="675" width="16" height="1.3"/><rect x="1537" y="690" width="12" height="1.3"/></g>
<g stroke="#bbb" stroke-width="1.1">
<line x1="1354" y1="700" x2="1340" y2="716"/><line x1="1360" y1="700" x2="1346" y2="716"/><line x1="1366" y1="700" x2="1350" y2="718"/><line x1="1372" y1="700" x2="1354" y2="722"/><line x1="1378" y1="700" x2="1362" y2="718"/><line x1="1384" y1="700" x2="1362" y2="728"/><line x1="1390" y1="700" x2="1370" y2="726"/><line x1="1396" y1="700" x2="1378" y2="722"/><line x1="1402" y1="700" x2="1386" y2="720"/><line x1="1408" y1="700" x2="1390" y2="724"/><line x1="1414" y1="700" x2="1394" y2="726"/><line x1="1420" y1="700" x2="1398" y2="730"/><line x1="1426" y1="700" x2="1404" y2="730"/><line x1="1432" y1="700" x2="1412" y2="726"/><line x1="1438" y1="700" x2="1420" y2="724"/><line x1="1444" y1="700" x2="1424" y2="726"/><line x1="1450" y1="700" x2="1432" y2="724"/><line x1="1456" y1="700" x2="1436" y2="728"/><line x1="1462" y1="700" x2="1444" y2="724"/><line x1="1468" y1="700" x2="1448" y2="728"/><line x1="1474" y1="700" x2="1452" y2="730"/><line x1="1480" y1="700" x2="1460" y2="726"/><line x1="1486" y1="700" x2="1466" y2="726"/><line x1="1492" y1="700" x2="1472" y2="726"/><line x1="1498" y1="700" x2="1478" y2="726"/><line x1="1504" y1="700" x2="1484" y2="726"/><line x1="1510" y1="700" x2="1490" y2="726"/><line x1="1516" y1="700" x2="1496" y2="726"/><line x1="1522" y1="700" x2="1502" y2="726"/><line x1="1528" y1="700" x2="1510" y2="724"/>
</g>

<!-- ============ BOTTOM ROW ============ -->
<!-- HPLC -->
<g>
<line x1="40" y1="650" x2="44" y2="638" stroke="#bbb" stroke-width="0.8"/><line x1="64" y1="650" x2="66" y2="636" stroke="#bbb" stroke-width="0.8"/>
<path d="M35 660 Q35 652 42 650 L46 650 Q53 652 53 660 L53 693 L35 693 Z" fill="#eef2f4" stroke="#b5bcc2" stroke-width="0.8"/>
<path d="M57 660 Q57 652 64 650 L68 650 Q75 652 75 660 L75 693 L57 693 Z" fill="#eef2f4" stroke="#b5bcc2" stroke-width="0.8"/>
<rect x="15" y="693" width="17" height="115" fill="#cdd1d5"/>
<rect x="31" y="693" width="65" height="115" fill="#f1f2f3"/>
<rect x="31" y="693" width="65" height="4" fill="#dfe2e4"/>
<rect x="31" y="720" width="65" height="1" fill="#cfd3d6"/>
<rect x="31" y="745" width="65" height="22" fill="#1e2024"/>
<rect x="31" y="780" width="65" height="1" fill="#cfd3d6"/>
<rect x="31" y="795" width="65" height="1" fill="#cfd3d6"/>
<rect x="18" y="705" width="10" height="1" fill="#9aa"/><rect x="18" y="710" width="10" height="1" fill="#9aa"/>
<rect x="96" y="725" width="73" height="58" fill="#b4b9bd"/>
<rect x="99" y="728" width="67" height="52" fill="#4a86c0"/>
<rect x="102" y="732" width="50" height="16" fill="#e8eef4"/>
<rect x="104" y="751" width="20" height="26" fill="#f0f4f8"/>
<rect x="127" y="751" width="37" height="26" fill="#1a2a40"/>
<rect x="126" y="783" width="14" height="12" fill="#333"/>
<path d="M96 810 L104 795 L169 795 L169 810 Z" fill="#262626"/>
</g>
<!-- plus 2 -->
<path d="M199 722 L210 722 L210 733 L221 733 L221 744 L210 744 L210 755 L199 755 L199 744 L188 744 L188 733 L199 733 Z" fill="#a9d18e" stroke="#5c8a3c" stroke-width="1.3"/>
<!-- LC-MS -->
<g>
<path d="M262 660 Q262 652 268 650 L272 650 Q278 652 278 660 L278 675 L262 675 Z" fill="#eef2f4" stroke="#b5bcc2" stroke-width="0.8"/>
<path d="M272 664 Q272 657 277 655 L281 655 Q287 657 287 664 L287 675 L272 675 Z" fill="#eef2f4" stroke="#b5bcc2" stroke-width="0.8"/>
<path d="M290 660 Q290 652 296 650 L300 650 Q306 652 306 660 L306 675 L290 675 Z" fill="#eef2f4" stroke="#b5bcc2" stroke-width="0.8"/>
<path d="M300 665 Q300 658 305 656 L309 656 Q314 658 314 665 L314 675 L300 675 Z" fill="#eef2f4" stroke="#b5bcc2" stroke-width="0.8"/>
<path d="M237 675 L318 675 L322 682 L322 688 L237 688 Z" fill="#1f2022"/>
<rect x="237" y="688" width="85" height="34" fill="#eff1f3"/><rect x="281" y="688" width="41" height="34" fill="#3f65a0"/>
<rect x="237" y="725" width="85" height="67" fill="#eff1f3"/><rect x="281" y="725" width="41" height="67" fill="#3f65a0"/>
<rect x="237" y="795" width="85" height="33" fill="#eff1f3"/><rect x="281" y="795" width="41" height="33" fill="#3f65a0"/>
<rect x="237" y="722" width="85" height="3" fill="#c5c9cc"/><rect x="237" y="792" width="85" height="3" fill="#c5c9cc"/>
<rect x="278" y="700" width="7" height="9" fill="#d8dbde" stroke="#666" stroke-width="0.5"/><rect x="278" y="752" width="7" height="9" fill="#d8dbde" stroke="#666" stroke-width="0.5"/><rect x="278" y="805" width="7" height="9" fill="#d8dbde" stroke="#666" stroke-width="0.5"/>
<rect x="312" y="723" width="104" height="105" fill="#e7e9eb"/>
<rect x="391" y="723" width="25" height="105" fill="#3f65a0"/>
<rect x="314" y="770" width="62" height="56" fill="#cfd3d6"/>
<rect x="316" y="727" width="6" height="3" fill="#c03030"/>
<circle cx="320" cy="745" r="3" fill="#777"/><circle cx="320" cy="757" r="3" fill="#888"/>
<path d="M330 780 L345 790 L345 815 M335 795 L360 800 L358 820 M350 778 Q365 785 355 805" stroke="#444" stroke-width="1.5" fill="none"/>
<ellipse cx="348" cy="815" rx="14" ry="8" fill="#e8eaec" stroke="#999" stroke-width="0.8"/>
<rect x="378" y="755" width="10" height="35" fill="#d8dbde" stroke="#999" stroke-width="0.5"/>
<rect x="433" y="743" width="71" height="54" fill="#c3c7cb"/>
<rect x="436" y="746" width="65" height="48" fill="url(#scr)"/>
<rect x="480" y="782" width="20" height="11" fill="#c02020"/>
<rect x="460" y="797" width="16" height="16" fill="#222"/>
<path d="M419 833 L430 813 L509 813 L509 833 Z" fill="#1e1e1e"/>
</g>
<text class="big" x="73" y="853" font-size="26" textLength="74" lengthAdjust="spacingAndGlyphs">HPLC</text>
<text class="big" x="312" y="853" font-size="26" textLength="140" lengthAdjust="spacingAndGlyphs">LC-MS/MS</text>
<!-- arrow bottom -->
<path d="M519 730 L571 730 L571 722 L586 739 L571 756 L571 748 L519 748 Z" fill="#a9d18e" stroke="#6d9f50" stroke-width="1.2"/>

<!-- ============ BOTTOM BOX ============ -->
<rect x="598" y="635" width="567" height="249" fill="none" stroke="#4f8a32" stroke-width="3" stroke-dasharray="13 8"/>
<g stroke="#888" stroke-width="0.6" fill="none">
<polyline points="620,652 620,748 792,748"/>
<polyline points="620,760 620,857 792,857"/>
</g>
<g stroke="#666" stroke-width="0.9" fill="none">
<polyline points="624,733 634,733 637,703 641,687 643,681 645,683 647,695 649,707 651,718 653,727 660,727 666,722 672,720 676,726 680,718 684,724 687,723 688,672 689,690 690,720 696,724 702,728 710,727 718,730 726,729 733,727 738,724 742,718 745,713 748,700 750,690 752,673 754,664 756,660 758,668 760,662 762,667 764,680 766,672 768,687 771,695 775,703 779,700 783,707 787,712 791,720"/>
<polyline points="624,845 634,843 636,820 637,767 638,800 641,807 643,796 645,793 647,800 649,813 652,826 657,833 664,836 670,832 676,838 684,834 692,837 700,832 706,833 710,829 714,835 718,838 726,837 734,836 742,834 752,837 760,835 768,838 776,836 784,838 791,840"/>
</g>
<rect x="636" y="767" width="3" height="80" fill="#ddd" opacity="0.7"/>
<g fill="#ccc"><rect x="793" y="655" width="6" height="1"/><rect x="793" y="659" width="6" height="1"/><rect x="793" y="663" width="6" height="1"/><rect x="793" y="667" width="6" height="1"/><rect x="793" y="763" width="6" height="1"/><rect x="793" y="767" width="6" height="1"/><rect x="793" y="771" width="6" height="1"/></g>
<g fill="none" stroke="#ccc" stroke-width="0.6">
<rect x="816" y="652" width="44" height="46"/><rect x="881" y="652" width="46" height="46"/>
<rect x="816" y="705" width="44" height="43"/><rect x="881" y="705" width="46" height="43"/><rect x="940" y="705" width="46" height="43"/>
</g>
<g stroke="#ccc" stroke-width="0.4" stroke-dasharray="1.5 1"><line x1="816" y1="677" x2="860" y2="677"/><line x1="838" y1="652" x2="838" y2="698"/><line x1="881" y1="677" x2="927" y2="677"/><line x1="905" y1="652" x2="905" y2="698"/></g>
<g><circle cx="825" cy="664" r="1" fill="#d8b040"/><circle cx="828" cy="668" r="1" fill="#d8b040"/><circle cx="834" cy="687" r="1" fill="#4a7ac0"/><circle cx="835" cy="692" r="1" fill="#4a7ac0"/><circle cx="857" cy="677" r="1" fill="#333"/>
<circle cx="893" cy="664" r="1" fill="#d8b040"/><circle cx="896" cy="668" r="1" fill="#d8b040"/><circle cx="898" cy="688" r="1" fill="#4a7ac0"/><circle cx="900" cy="692" r="1" fill="#4a7ac0"/><circle cx="923" cy="677" r="1" fill="#333"/></g>
<g fill="#5ab0d8"><rect x="947" y="668" width="2" height="14"/><rect x="953" y="667" width="2" height="18"/><rect x="959" y="668" width="2" height="20"/><rect x="965" y="668" width="2" height="14"/><rect x="971" y="667" width="2" height="12"/><rect x="977" y="666" width="2" height="8"/></g>
<line x1="944" y1="667" x2="982" y2="665" stroke="#e05050" stroke-width="0.8" stroke-dasharray="2 1"/>
<g fill="#e05050" opacity="0.85">
<ellipse cx="830" cy="728" rx="5" ry="14"/><ellipse cx="897" cy="730" rx="3" ry="12"/><ellipse cx="958" cy="728" rx="4" ry="14"/>
<circle cx="836" cy="716" r="1"/><circle cx="840" cy="722" r="1"/><circle cx="824" cy="720" r="1"/><circle cx="845" cy="712" r="1"/><circle cx="965" cy="715" r="1"/><circle cx="970" cy="720" r="1"/><circle cx="975" cy="710" r="1"/><circle cx="902" cy="718" r="1"/>
</g>
<g fill="#5060c0" opacity="0.8"><ellipse cx="826" cy="735" rx="2" ry="6"/><ellipse cx="894" cy="738" rx="2" ry="7"/><ellipse cx="954" cy="736" rx="2" ry="6"/></g>
<g fill="#6058b8">
<rect x="1036" y="666" width="10" height="1.6"/><rect x="1036" y="669" width="14" height="1.6"/><rect x="1036" y="672" width="12" height="1.6"/><rect x="1036" y="675" width="16" height="1.6"/><rect x="1036" y="678" width="13" height="1.6"/><rect x="1036" y="681" width="15" height="1.6"/>
<rect x="1036" y="703" width="8" height="1.6"/><rect x="1036" y="706" width="13" height="1.6"/><rect x="1036" y="709" width="10" height="1.6"/><rect x="1036" y="712" width="14" height="1.6"/><rect x="1036" y="715" width="12" height="1.6"/>
<rect x="1036" y="736" width="12" height="1.6"/><rect x="1036" y="739" width="14" height="1.6"/><rect x="1036" y="742" width="16" height="1.6"/><rect x="1036" y="745" width="15" height="1.6"/>
</g>
<g fill="#58c0e0">
<rect x="1036" y="655" width="6" height="1.6"/><rect x="1036" y="658" width="8" height="1.6"/><rect x="1036" y="661" width="9" height="1.6"/>
<rect x="1036" y="692" width="6" height="1.6"/><rect x="1036" y="695" width="7" height="1.6"/><rect x="1036" y="698" width="9" height="1.6"/>
<rect x="1036" y="724" width="6" height="1.6"/><rect x="1036" y="727" width="8" height="1.6"/><rect x="1036" y="730" width="10" height="1.6"/>
</g>
<g fill="#ddd"><rect x="1022" y="660" width="12" height="1"/><rect x="1022" y="700" width="12" height="1"/><rect x="1022" y="736" width="12" height="1"/></g>
<g fill="none" stroke="#ddd" stroke-width="0.6"><rect x="1080" y="652" width="30" height="32"/><rect x="1080" y="688" width="30" height="30"/><rect x="1080" y="722" width="30" height="28"/></g>
<g fill="#e07070"><circle cx="1095" cy="665" r="0.8"/><circle cx="1093" cy="672" r="0.8"/><circle cx="1097" cy="678" r="0.8"/><circle cx="1094" cy="700" r="0.8"/><circle cx="1096" cy="708" r="0.8"/><circle cx="1095" cy="732" r="0.8"/><circle cx="1098" cy="740" r="0.8"/></g>
<use href="#pie" x="858" y="792"/>
<use href="#pie" x="949" y="792"/>
<use href="#pie" x="905" y="847"/>
<g class="sm" font-size="4" fill="#555"><text x="812" y="772">(a)</text><text x="906" y="772">(b)</text><text x="853" y="828">(c)</text></g>
<g>
<rect x="1007" y="771" width="38" height="3" fill="#2a8a3a"/>
<rect x="1007" y="774" width="18" height="28" fill="#4a5ad8"/><rect x="1025" y="774" width="20" height="28" fill="#e04848"/>
<rect x="1007" y="802" width="18" height="13" fill="#e04848"/><rect x="1025" y="802" width="20" height="13" fill="#4a5ad8"/>
<rect x="1080" y="771" width="40" height="3" fill="#2a8a3a"/>
<rect x="1080" y="774" width="14" height="41" fill="#ee8080"/><rect x="1094" y="774" width="12" height="20" fill="#6070dc"/><rect x="1106" y="774" width="14" height="20" fill="#e86060"/><rect x="1094" y="794" width="26" height="21" fill="#5868dc"/><rect x="1080" y="784" width="14" height="8" fill="#c8ccf0"/>
<rect x="1045" y="822" width="39" height="3" fill="#2a8a3a"/>
<rect x="1045" y="825" width="19" height="28" fill="#4a5ad8"/><rect x="1064" y="825" width="20" height="28" fill="#e44c4c"/>
<rect x="1045" y="853" width="19" height="14" fill="#e44c4c"/><rect x="1064" y="853" width="20" height="14" fill="#5060d8"/>
</g>
<g fill="#bbb"><rect x="1047" y="778" width="10" height="1"/><rect x="1047" y="788" width="10" height="1"/><rect x="1047" y="798" width="10" height="1"/><rect x="1122" y="778" width="10" height="1"/><rect x="1122" y="788" width="10" height="1"/><rect x="1122" y="798" width="10" height="1"/><rect x="1086" y="830" width="10" height="1"/><rect x="1086" y="840" width="10" height="1"/><rect x="1086" y="850" width="10" height="1"/></g>
<g><rect x="1059" y="774" width="3" height="3" fill="#d33"/><rect x="1059" y="782" width="3" height="3" fill="#33c"/><rect x="1135" y="774" width="3" height="3" fill="#d33"/><rect x="1135" y="782" width="3" height="3" fill="#33c"/><rect x="1100" y="826" width="3" height="3" fill="#d33"/><rect x="1100" y="834" width="3" height="3" fill="#33c"/></g>
</svg>
</body></html>
